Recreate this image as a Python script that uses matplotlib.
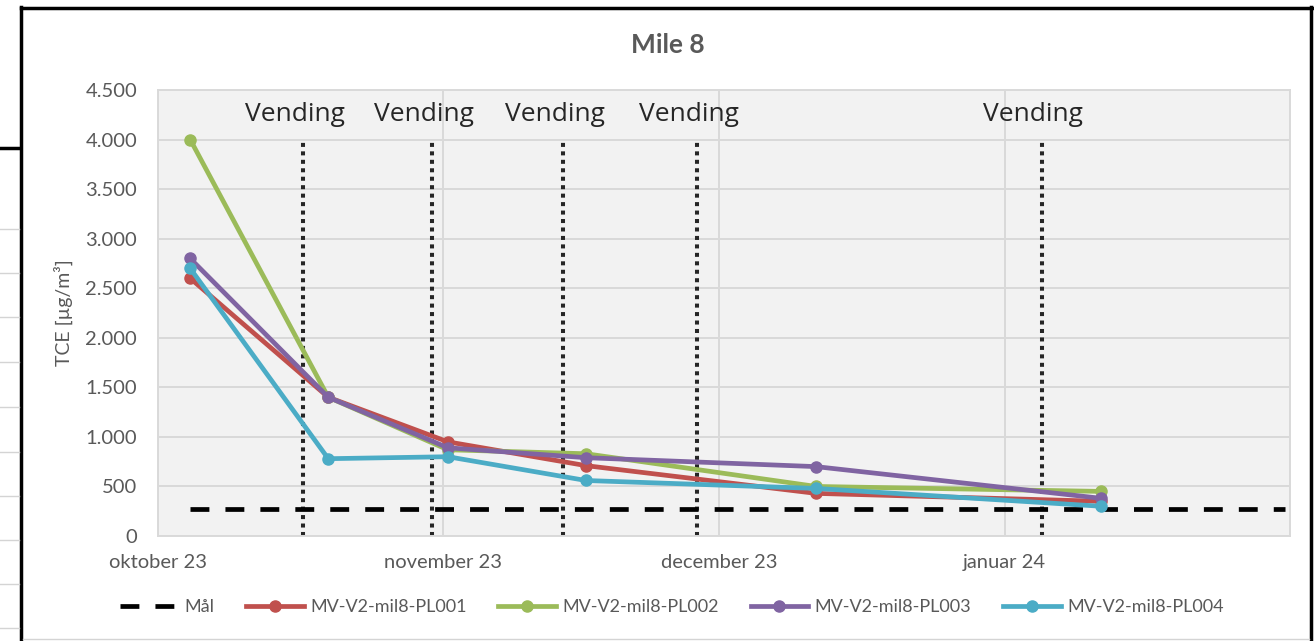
import matplotlib
matplotlib.use("Agg")
import matplotlib.pyplot as plt
import pandas as pd
from matplotlib.lines import Line2D
from matplotlib.ticker import FuncFormatter, MultipleLocator

plt.rcParams['font.family'] = ['Lato', 'DejaVu Sans']

# Data
datoer = pd.to_datetime(['2023-10-04', '2023-10-19', '2023-11-01',
                         '2023-11-16', '2023-12-11', '2024-01-11'])
pl001 = [2600, 1400, 950, 710, 430, 350]
pl002 = [4000, 1400, 870, 830, 500, 450]
pl003 = [2800, 1400, 890, 790, 700, 380]
pl004 = [2700, 780, 800, 560, 480, 300]

maal_datoer = pd.to_datetime(['2023-10-04', '2024-01-31'])
maal = [270, 270]

vending_datoer = pd.to_datetime(['2023-10-16 18:00', '2023-10-30 19:00',
                                 '2023-11-14 00:00', '2023-11-28 14:00',
                                 '2024-01-05 00:00'])
vending_top = 4000
vending_tekst_y = 4190

maaned_ticks = pd.to_datetime(['2023-10-01', '2023-11-01', '2023-12-01',
                               '2024-01-01', '2024-02-01'])
maaned_labels = ['oktober 23', 'november 23', 'december 23', 'januar 24', '']

serier = [
    ('MV-V2-mil8-PL001', pl001, '#C0504D'),
    ('MV-V2-mil8-PL002', pl002, '#9BBB59'),
    ('MV-V2-mil8-PL003', pl003, '#8064A2'),
    ('MV-V2-mil8-PL004', pl004, '#4BACC6'),
]

W, H = 1314, 641
fig = plt.figure(figsize=(W / 100, H / 100), dpi=100)
fig.patch.set_facecolor('white')


def fx(x):
    return x / W


def fy(y):
    return 1 - y / H


ax = fig.add_axes([fx(158), fy(536), fx(1290) - fx(158), fy(90) - fy(536)])
ax.set_facecolor('#F2F2F2')

# Excel placerer punkter midt i dagen
halv_dag = pd.Timedelta(hours=12)

# Vending-linjer
for d in vending_datoer:
    ax.plot([d, d], [0, vending_top], color='#262626', lw=2.9,
            linestyle=(0, (1, 1.1)), zorder=2)
    ax.annotate('Vending', xy=(d, vending_tekst_y), xytext=(-6, 0),
                textcoords='offset points', ha='center', va='baseline',
                fontsize=19, color='#262626', family=['Open Sans', 'DejaVu Sans'])

# Mål
maal_linje, = ax.plot(maal_datoer + halv_dag, maal, color='black', lw=3.4,
                      linestyle=(0, (4.0, 3.4)), zorder=3, label='Mål')

handles = [maal_linje]
for navn, vals, farve in serier:
    h, = ax.plot(datoer + halv_dag, vals, color=farve, lw=3.4, marker='o',
                 markersize=8, markeredgecolor=farve, label=navn, zorder=4)
    handles.append(h)

ax.set_xlim(maaned_ticks[0], maaned_ticks[-1])
ax.set_ylim(0, 4500)
ax.yaxis.set_major_locator(MultipleLocator(500))
ax.yaxis.set_major_formatter(FuncFormatter(lambda v, p: f'{int(v):,}'.replace(',', '.')))
ax.set_xticks(maaned_ticks)
ax.set_xticklabels(maaned_labels)

ax.grid(True, color='#D9D9D9', lw=1.4, zorder=0)
ax.set_axisbelow(True)
for s in ax.spines.values():
    s.set_color('#D9D9D9')
    s.set_linewidth(1.4)

ax.tick_params(axis='both', length=0, labelsize=14.5, labelcolor='#595959')
ax.tick_params(axis='y', pad=15)
ax.tick_params(axis='x', pad=13)

ax.set_ylabel('TCE [µg/m³]', fontsize=14, color='#595959', labelpad=9)

fig.text(fx(668), fy(45), 'Mile 8', ha='center', va='center', fontsize=19,
         fontweight='bold', color='#595959')

fig.legend(handles=handles, loc='center', bbox_to_anchor=(fx(672), fy(607)),
           ncol=5, frameon=False, fontsize=13, handlelength=3.2,
           handletextpad=0.35, columnspacing=1.75, labelcolor='#595959')

# Ramme og regneark-baggrund
ramme = dict(color='black', lw=2.5, transform=fig.transFigure)
fig.add_artist(Line2D([fx(21), fx(21)], [fy(7), 0], **ramme))
fig.add_artist(Line2D([fx(21), fx(1312)], [fy(8), fy(8)], **ramme))
fig.add_artist(Line2D([fx(1311), fx(1311)], [fy(7), 0], **ramme))
fig.add_artist(Line2D([0, fx(19)], [fy(148), fy(148)], **ramme))
for y in [229, 273, 317, 362, 407, 452, 496, 540, 584, 628]:
    fig.add_artist(Line2D([0, fx(19)], [fy(y), fy(y)], color='#D4D4D4',
                          lw=1, transform=fig.transFigure))
fig.add_artist(Line2D([fx(23), fx(1309)], [fy(639), fy(639)], color='#D4D4D4',
                      lw=1, transform=fig.transFigure))

fig.savefig('out.png', dpi=100, facecolor='white')
